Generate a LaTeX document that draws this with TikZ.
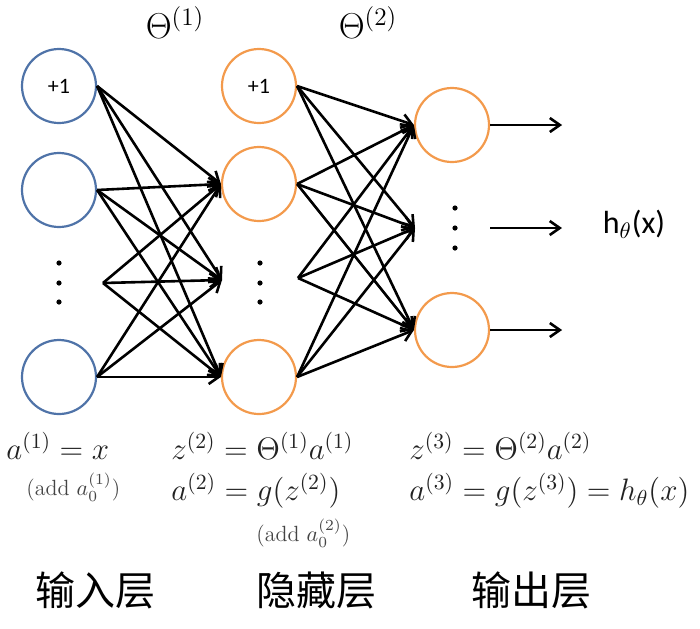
\RequirePackage{fix-cm}
\documentclass[tikz,border=0pt]{standalone}
\usepackage{amsmath}
\usepackage{fontspec}
\newfontfamily\cjk{Noto Sans CJK SC}
\newfontfamily\cali{Carlito}
\usepackage{tikz}
\usetikzlibrary{arrows.meta,positioning}
\usepackage{xcolor}
\definecolor{InBlue}{HTML}{4F73A8}
\definecolor{HidOrange}{HTML}{F39A4C}
\definecolor{EqGray}{HTML}{222222}
\definecolor{NoteGray}{HTML}{444444}

\begin{document}
\begin{tikzpicture}[x=0.5pt,y=-0.5pt,>={Straight Barb[length=5pt,width=7pt]},
  unit/.style={circle,draw,line width=1.1pt,minimum size=37pt,inner sep=0pt,font=\cali\fontsize{11}{13}\selectfont},
  inunit/.style={unit,draw=InBlue},
  hidunit/.style={unit,draw=HidOrange},
  wire/.style={->,line width=1.3pt},
  eq/.style={anchor=west,inner sep=0pt,text=EqGray,font=\fontsize{15.5}{18}\selectfont},
  note/.style={anchor=west,inner sep=0pt,text=NoteGray,font=\fontsize{11}{13}\selectfont},
  layername/.style={font=\cjk\fontsize{20}{24}\selectfont}]
\useasboundingbox (0,0) rectangle (700,628);

% input layer
\node[inunit] (i0) at (59,86) {+1};
\node[inunit] (i1) at (59,190) {};
\node[inunit] (in) at (59,377) {};
\coordinate (idots) at (103,283);

% hidden layer
\node[hidunit] (h0) at (259,86) {+1};
\node[hidunit] (h1) at (259,184) {};
\node[hidunit] (hn) at (259,377) {};
\coordinate (hdotsin) at (222,280);
\coordinate (hdotsout) at (298,278);

% output layer
\node[hidunit] (o1) at (452,125) {};
\node[hidunit] (on) at (452,330) {};
\coordinate (odotsin) at (415,228);
\coordinate (odotsout) at (490,228);
\coordinate[right=36pt of o1] (y1);
\coordinate[right=36pt of odotsout] (y2);
\coordinate[right=36pt of on] (y3);

\foreach \y in {263,283,302} {
  \fill (59,\y) circle (1.3pt);
  \fill (260,\y) circle (1.3pt);
}
\foreach \y in {208,228,248}
  \fill (455,\y) circle (1.3pt);

\foreach \s in {i0.east,i1.east,idots,in.east}
  \foreach \t in {h1.west,hdotsin,hn.west}
    \draw[wire] (\s) -- (\t);
\foreach \s in {h0.east,h1.east,hdotsout,hn.east}
  \foreach \t in {o1.west,odotsin,on.west}
    \draw[wire] (\s) -- (\t);
\draw[wire] (o1) -- (y1);
\draw[wire] (odotsout) -- (y2);
\draw[wire] (on) -- (y3);

\node[font=\fontsize{18}{21}\selectfont] (th1) at (175,23) {$\Theta^{(1)}$};
\node[font=\fontsize{18}{21}\selectfont] (th2) at (368,23) {$\Theta^{(2)}$};
\node[font=\cali\fontsize{16}{19}\selectfont] (hx) at (634,224) {h$_\theta$(x)};

% equations
\node[eq] (eqa1) at (6,446) {$a^{(1)}=x$};
\node[note] (add1) at (26,487) {(add $a_0^{(1)}$)};
\node[eq] (eqz2) at (171,446) {$z^{(2)}=\Theta^{(1)}a^{(1)}$};
\node[eq] (eqa2) at (171,491) {$a^{(2)}=g(z^{(2)})$};
\node[note] (add2) at (256,533) {(add $a_0^{(2)}$)};
\node[eq] (eqz3) at (409,446) {$z^{(3)}=\Theta^{(2)}a^{(2)}$};
\node[eq] (eqa3) at (409,491) {$a^{(3)}=g(z^{(3)})=h_\theta(x)$};

\node[layername] (lin) at (95,590) {输入层};
\node[layername] (lhid) at (316,590) {隐藏层};
\node[layername] (lout) at (531,590) {输出层};
\end{tikzpicture}
\end{document}
